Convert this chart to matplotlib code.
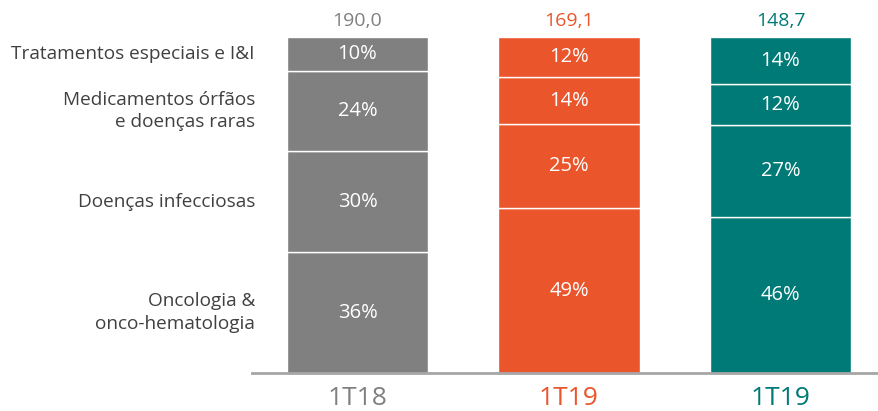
import matplotlib
matplotlib.use("Agg")
import matplotlib.pyplot as plt

plt.rcParams['font.family'] = ['Open Sans', 'DejaVu Sans']

periods = ["1T18", "1T19", "1T19"]
totals = ["190,0", "169,1", "148,7"]
categories = ["Oncologia &\nonco-hematologia", "Doenças infecciosas",
              "Medicamentos órfãos\ne doenças raras", "Tratamentos especiais e I&I"]
# shares by category (bottom to top), per period
oncologia = [36, 49, 46.4]
infecciosas = [30, 25, 27.4]
orfaos = [24, 14, 12.2]
especiais = [10, 12, 14.0]
labels = [["36%", "49%", "46%"], ["30%", "25%", "27%"],
          ["24%", "14%", "12%"], ["10%", "12%", "14%"]]

colors = ["#808080", "#EB552C", "#007A76"]
text_colors = ["#808080", "#EB552C", "#007A76"]

W, H = 879, 411
fig = plt.figure(figsize=(W / 100, H / 100), dpi=100)
ax = fig.add_axes([252 / W, 38 / H, (W - 252) / W, 336 / H])

series = [oncologia, infecciosas, orfaos, especiais]
x = list(range(len(periods)))
bottoms = [0.0] * len(periods)
for si, vals in enumerate(series):
    ax.bar(x, vals, width=0.667, bottom=bottoms, color=colors,
           edgecolor="white", linewidth=1.0)
    for i, v in enumerate(vals):
        ax.text(x[i], bottoms[i] + v / 2, labels[si][i], ha="center", va="center",
                color="white", fontsize=14.5)
    # category label next to first bar
    ax.text(-0.485, bottoms[0] + vals[0] / 2, categories[si], ha="right", va="center",
            color="#404040", fontsize=13.7, linespacing=1.3, clip_on=False)
    bottoms = [b + v for b, v in zip(bottoms, vals)]

for i, t in enumerate(totals):
    ax.text(x[i], 100 + 2.2, t, ha="center", va="bottom", color=text_colors[i],
            fontsize=14, clip_on=False)

ax.set_xlim(-0.499, 2.466)
ax.set_ylim(0, 100)
ax.set_xticks(x)
ax.set_xticklabels(periods, fontsize=19)
for lbl, c in zip(ax.get_xticklabels(), text_colors):
    lbl.set_color(c)
ax.tick_params(axis="x", length=0, pad=9)
ax.set_yticks([])
for s in ["top", "right", "left"]:
    ax.spines[s].set_visible(False)
ax.spines["bottom"].set_color("#A6A6A6")
ax.spines["bottom"].set_linewidth(2)

fig.savefig("out.png", dpi=100)
